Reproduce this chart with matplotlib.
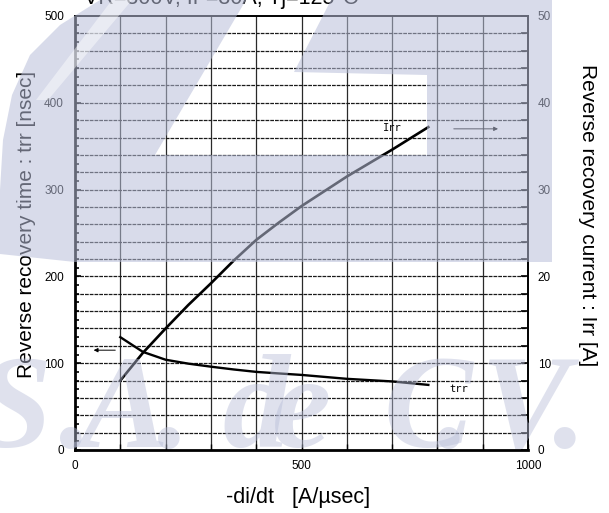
import matplotlib
matplotlib.use("Agg")
import matplotlib.pyplot as plt
from matplotlib.patches import Polygon
from matplotlib.ticker import MultipleLocator

plt.rcParams['font.family'] = ['Liberation Sans', 'DejaVu Sans']

# -di/dt [A/usec]
di_dt = [100, 150, 200, 250, 300, 350, 400, 450, 500, 600, 700, 780]
# reverse recovery time trr [nsec]
trr = [130, 113, 104, 99.5, 96, 92.8, 90, 88.2, 86.5, 82, 79, 75]
# reverse recovery current Irr [A]
irr = [8.0, 11.2, 14.0, 16.7, 19.2, 21.8, 24.2, 26.2, 28.1, 31.5, 34.6, 37.2]

x_ticks = [0, 500, 1000]
trr_ticks = [0, 100, 200, 300, 400, 500]
irr_ticks = [0, 10, 20, 30, 40, 50]

title = "VR=300V, IF=30A, Tj=125°C"
xlabel = "-di/dt   [A/µsec]"
ylabel_left = "Reverse recovery time : trr [nsec]"
ylabel_right = "Reverse recovery current : Irr [A]"

W, H = 609, 513
fig = plt.figure(figsize=(W / 100, H / 100), dpi=100)
ax = fig.add_axes([75 / W, 1 - 450 / H, (528 - 75) / W, (450 - 16) / H])
ax2 = ax.twinx()

ax.set_xlim(0, 1000)
ax.set_ylim(0, 500)
ax2.set_ylim(0, 50)

# grid: solid verticals every 100, dashed horizontals every 20
for xv in range(100, 1000, 100):
    ax.axvline(xv, color='#2a2a2a', lw=0.9, zorder=1)
for yv in range(20, 500, 20):
    ax.axhline(yv, color='#1a1a1a', lw=0.9, ls=(0, (3, 0.8)), zorder=1)

ax.plot(di_dt, trr, color='black', lw=1.7, zorder=3)
ax2.plot(di_dt, irr, color='black', lw=1.9, zorder=3)

# curve labels and axis-direction arrows
ax.text(700, 371, "Irr", fontsize=7.5, family='DejaVu Sans Mono', ha='center', va='center')
ax.text(848, 70, "trr", fontsize=7.5, family='DejaVu Sans Mono', ha='center', va='center')
ax.annotate("", xy=(940, 370), xytext=(830, 370),
            arrowprops=dict(arrowstyle='-|>', color='black', lw=0.7, mutation_scale=6))
ax.annotate("", xy=(35, 115), xytext=(95, 115),
            arrowprops=dict(arrowstyle='-|>', color='black', lw=0.7, mutation_scale=6))

for s in ['left', 'bottom']:
    ax.spines[s].set_linewidth(2.0)
for s in ['top', 'right']:
    ax.spines[s].set_linewidth(1.4)
for s in ax2.spines.values():
    s.set_visible(False)

ax.set_xticks(x_ticks)
ax.xaxis.set_minor_locator(MultipleLocator(100))
ax.set_yticks(trr_ticks)
ax.yaxis.set_minor_locator(MultipleLocator(10))
ax.tick_params(axis='x', which='both', direction='in', length=4, width=1, pad=7, labelsize=8.5)
ax.tick_params(axis='y', which='major', direction='in', length=4, width=1.2, pad=8, labelsize=8.5)
ax.tick_params(axis='y', which='minor', direction='in', length=3, width=1.2)
ax2.set_yticks(irr_ticks)
ax2.yaxis.set_minor_locator(MultipleLocator(2))
ax2.tick_params(axis='y', which='both', direction='in', length=5, width=1.2, pad=7, labelsize=8.5)

fig.text(298 / W, 1 - 497 / H, xlabel, fontsize=15.5, ha='center', va='center')
fig.text(27 / W, 1 - 224 / H, ylabel_left, rotation=90, fontsize=15, ha='center', va='center')
fig.text(587 / W, 1 - 215 / H, ylabel_right, rotation=-90, fontsize=15, ha='center', va='center')
fig.text(84 / W, 1 - 4 / H, title, fontsize=15.5, ha='left', va='baseline')

# translucent blue logo overlay on top of the chart
ov = fig.add_axes([0, 0, 1, 1], zorder=10)
ov.set_xlim(0, W)
ov.set_ylim(H, 0)
ov.axis('off')
ov.patch.set_alpha(0)
blue = (184 / 255, 190 / 255, 217 / 255)
band = [(100, 0), (246, 0), (155, 155), (427, 155), (427, 75), (294, 72), (331, 0),
        (552, 0), (552, 262), (75, 262), (0, 254), (0, 190), (3, 140), (12, 95),
        (30, 55), (60, 25)]
ov.add_patch(Polygon(band, closed=True, facecolor=blue, alpha=0.55, edgecolor='none'))
ov.add_patch(Polygon([(112, 0), (132, 0), (48, 100), (36, 100)], closed=True,
                     facecolor='white', alpha=0.45, edgecolor='none'))
letters = [("S", -22), (".", 58), ("A", 80), (".", 156), ("d", 222), ("e", 272),
           ("C", 383), (".", 436), ("V", 480), (".", 552)]
for ch, lx in letters:
    ov.text(lx, 447, ch, fontsize=96, family='Liberation Serif', weight='bold',
            style='italic', color=blue, alpha=0.45, ha='left', va='baseline')

fig.savefig("out.png", dpi=100)
